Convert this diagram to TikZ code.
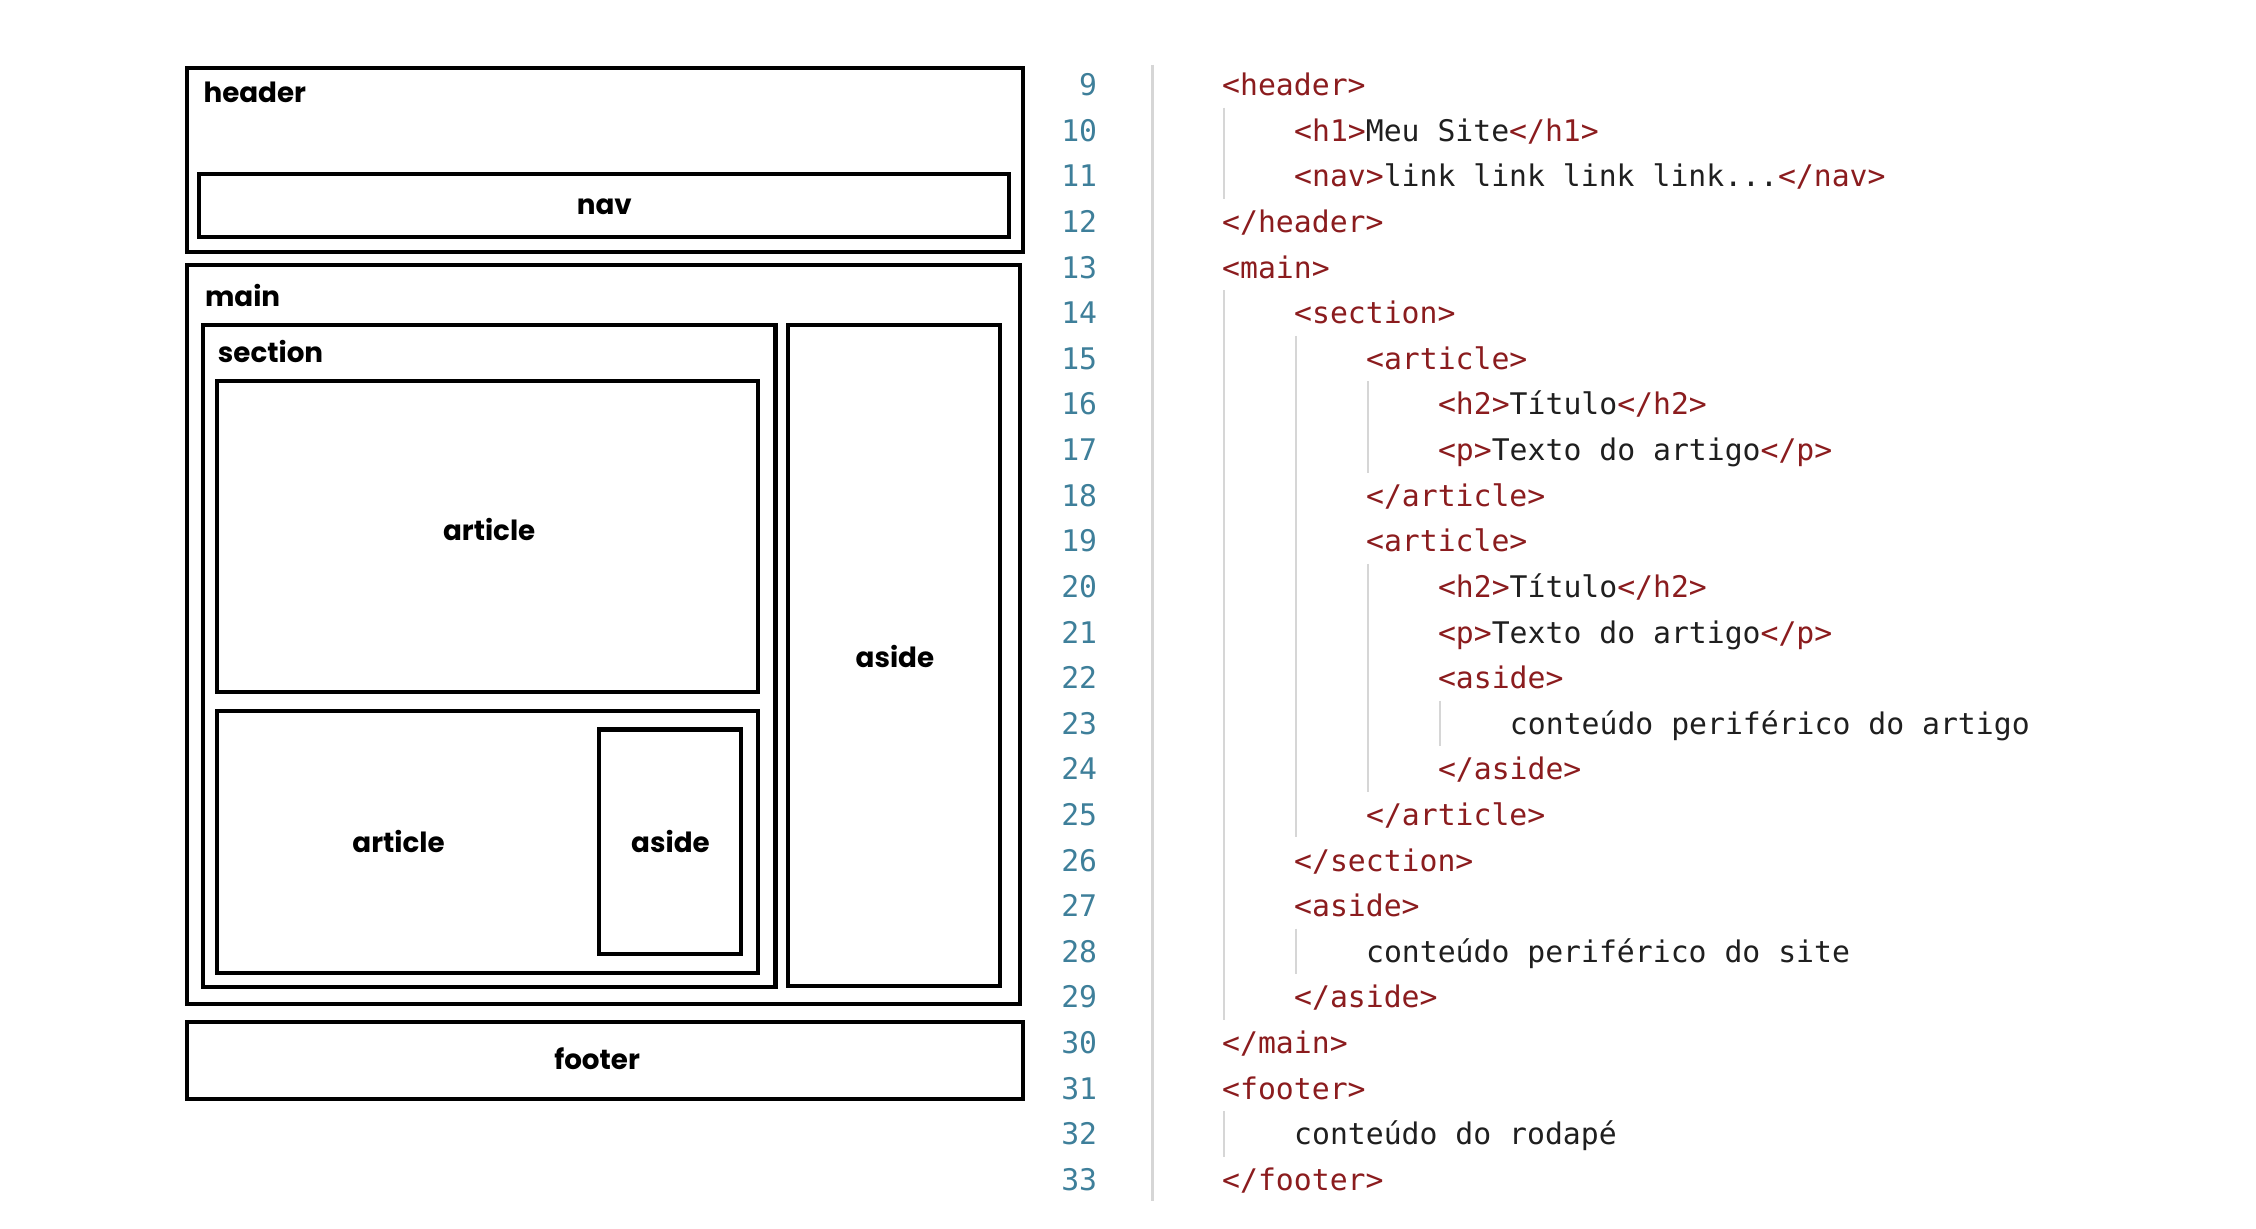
\documentclass[tikz,border=0pt]{standalone}
\usepackage{fontspec}
\setmainfont{Poppins}
\setmonofont{DejaVu Sans Mono}
\definecolor{tagred}{RGB}{139,28,30}
\definecolor{numteal}{RGB}{62,127,154}
\definecolor{guidegray}{RGB}{214,214,214}
\newcommand{\tg}[1]{\textcolor{tagred}{#1}}
\newcommand{\codeline}[3]{%
  \node[lnum] (n#1) at (763,{66.5+(#1-9)*31.7}) {#1};
  \node[code] (c#1) at ({849+#2*50},{66.5+(#1-9)*31.7}) {#3};}
\newcommand{\guide}[3]{%
  \draw[guide] ({851+#1*50},{43.15+(#2-9)*31.7}) -- ({851+#1*50},{74.85+(#3-9)*31.7});}

\begin{document}
\begin{tikzpicture}[x=0.014388cm,y=-0.014388cm,
    box/.style={draw=black,line width=1.15pt},
    lbl/.style={font=\bfseries\fontsize{7.9}{10}\selectfont,inner sep=0pt},
    toplbl/.style={lbl,anchor=base west},
    lnum/.style={anchor=base east,inner sep=0pt,text=numteal,font=\ttfamily\fontsize{8.47}{10}\selectfont},
    code/.style={anchor=base west,inner sep=0pt,text=black!88,font=\ttfamily\fontsize{8.47}{10}\selectfont},
    guide/.style={draw=guidegray,line width=0.6pt},
    sep/.style={draw=guidegray,line width=0.7pt}]
  \useasboundingbox[fill=white] (0,0) rectangle (1568,854);

  %%%%% layout sketch %%%%%
  \draw[box] (130,47) rectangle (711,175);
  \node[toplbl] (header) at (141,71) {header};
  \draw[box] (138,121) rectangle (701,165);
  \node[lbl] (nav) at (420,144) {nav};

  \draw[box] (130,184) rectangle (709,698);
  \node[toplbl] (main) at (142,213) {main};
  \draw[box] (141,226) rectangle (539,686);
  \node[toplbl] (section) at (151,252) {section};
  \draw[box] (151,265) rectangle (527,481);
  \node[lbl] (article1) at (340,368) {article};
  \draw[box] (151,494) rectangle (527,676);
  \node[lbl] (article2) at (277,585) {article};
  \draw[box] (416,507) rectangle (515,663);
  \node[lbl] (aside1) at (466,585) {aside};
  \draw[box] (548,226) rectangle (695,685);
  \node[lbl] (aside2) at (622,456) {aside};

  \draw[box] (130,710) rectangle (711,764);
  \node[lbl] (footer) at (415,736) {footer};

  %%%%% code listing %%%%%
  \draw[sep] (801,45) -- (801,835);
  \guide{0}{10}{11}
  \guide{0}{14}{29}
  \guide{1}{15}{25}
  \guide{2}{16}{17}
  \guide{2}{20}{24}
  \guide{3}{23}{23}
  \guide{1}{28}{28}
  \guide{0}{32}{32}

  \codeline{9}{0}{\tg{<header>}}
  \codeline{10}{1}{\tg{<h1>}Meu Site\tg{</h1>}}
  \codeline{11}{1}{\tg{<nav>}link link link link...\tg{</nav>}}
  \codeline{12}{0}{\tg{</header>}}
  \codeline{13}{0}{\tg{<main>}}
  \codeline{14}{1}{\tg{<section>}}
  \codeline{15}{2}{\tg{<article>}}
  \codeline{16}{3}{\tg{<h2>}Título\tg{</h2>}}
  \codeline{17}{3}{\tg{<p>}Texto do artigo\tg{</p>}}
  \codeline{18}{2}{\tg{</article>}}
  \codeline{19}{2}{\tg{<article>}}
  \codeline{20}{3}{\tg{<h2>}Título\tg{</h2>}}
  \codeline{21}{3}{\tg{<p>}Texto do artigo\tg{</p>}}
  \codeline{22}{3}{\tg{<aside>}}
  \codeline{23}{4}{conteúdo periférico do artigo}
  \codeline{24}{3}{\tg{</aside>}}
  \codeline{25}{2}{\tg{</article>}}
  \codeline{26}{1}{\tg{</section>}}
  \codeline{27}{1}{\tg{<aside>}}
  \codeline{28}{2}{conteúdo periférico do site}
  \codeline{29}{1}{\tg{</aside>}}
  \codeline{30}{0}{\tg{</main>}}
  \codeline{31}{0}{\tg{<footer>}}
  \codeline{32}{1}{conteúdo do rodapé}
  \codeline{33}{0}{\tg{</footer>}}
\end{tikzpicture}
\end{document}
